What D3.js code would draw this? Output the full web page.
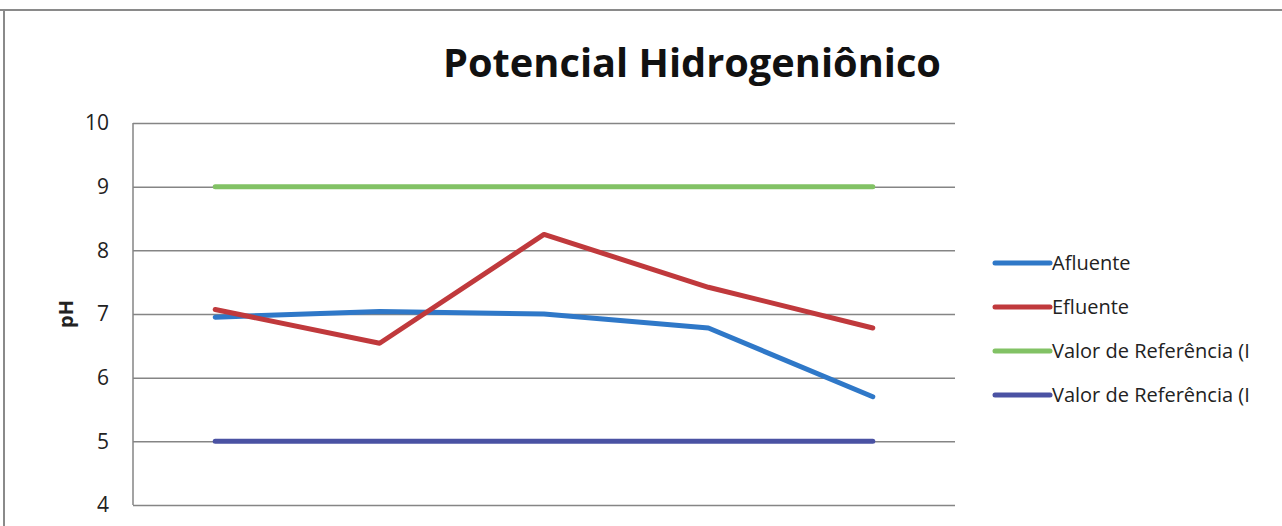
<!DOCTYPE html>
<html>
<head>
<meta charset="utf-8">
<script src="https://cdn.jsdelivr.net/npm/d3@7"></script>
<style>
  html, body { margin: 0; padding: 0; background: #fff; }
  svg { display: block; }
</style>
</head>
<body>
<svg id="chart" width="1282" height="526"></svg>
<script>
// Sampling points (categories along the x axis; no labels shown)
const categories = ["1", "2", "3", "4", "5"];
// pH readings per series
const afluente = [6.95, 7.04, 7.0, 6.78, 5.7];
const efluente = [7.07, 6.54, 8.25, 7.42, 6.78];
const refMax = [9, 9, 9, 9, 9];
const refMin = [5, 5, 5, 5, 5];
const yTicks = [4, 5, 6, 7, 8, 9, 10];

const seriesNames = ["Afluente", "Efluente", "Valor de Referência (I", "Valor de Referência (I"];
const seriesValues = [afluente, efluente, refMax, refMin];
const seriesColors = ["#2f78c8", "#c0393c", "#82c265", "#4a52a3"];

const svg = d3.select("#chart");
const plot = { left: 133, right: 955, top: 123, bottom: 505 };
const font = "Open Sans, sans-serif";

const x = d3.scalePoint().domain(categories).range([plot.left, plot.right]).padding(0.5);
const y = d3.scaleLinear().domain([4, 10]).range([plot.bottom, plot.top]);

// Frame of the document box
svg.append("line").attr("x1", 0).attr("x2", 1282).attr("y1", 10).attr("y2", 10)
  .attr("stroke", "#8a8a8a").attr("stroke-width", 2);
svg.append("line").attr("x1", 4).attr("x2", 4).attr("y1", 10).attr("y2", 526)
  .attr("stroke", "#8a8a8a").attr("stroke-width", 2);

// Title, fitted to its width
const title = svg.append("text")
  .attr("x", 692).attr("y", 77)
  .attr("text-anchor", "middle")
  .attr("font-family", font)
  .attr("font-weight", "bold")
  .attr("font-size", 38)
  .attr("fill", "#111")
  .text("Potencial Hidrogeniônico");
const tw = title.node().getComputedTextLength();
title.attr("font-size", 38 * 498 / tw);

// Horizontal gridlines and y axis
const yAxis = d3.axisLeft(y).tickValues(yTicks).tickFormat(d3.format("d"))
  .tickSize(-(plot.right - plot.left)).tickPadding(24);
const gy = svg.append("g").attr("transform", `translate(${plot.left},0)`).call(yAxis);
gy.select(".domain").remove();
gy.selectAll(".tick line").attr("stroke", "#858585").attr("stroke-width", 1.5);
gy.selectAll(".tick text")
  .attr("font-family", font)
  .attr("font-size", 21)
  .attr("fill", "#222");

// Vertical axis line
svg.append("line").attr("x1", plot.left).attr("x2", plot.left)
  .attr("y1", plot.top).attr("y2", plot.bottom)
  .attr("stroke", "#858585").attr("stroke-width", 1.5);

// Axis title
svg.append("text")
  .attr("transform", `translate(73,${y(7)}) rotate(-90)`)
  .attr("text-anchor", "middle")
  .attr("font-family", font)
  .attr("font-weight", "bold")
  .attr("font-size", 20)
  .attr("fill", "#222")
  .text("pH");

// Series lines
const line = d3.line().x((d, i) => x(categories[i])).y(d => y(d));
const drawOrder = [2, 3, 0, 1];
drawOrder.forEach(k => {
  svg.append("path")
    .datum(seriesValues[k])
    .attr("d", line)
    .attr("fill", "none")
    .attr("stroke", seriesColors[k])
    .attr("stroke-width", 5)
    .attr("stroke-linejoin", "round")
    .attr("stroke-linecap", "round");
});

// Legend
const legend = svg.append("g");
const legendY = d3.scalePoint().domain(d3.range(seriesNames.length)).range([263, 395]);
const labels = [];
seriesNames.forEach((name, k) => {
  const ly = legendY(k);
  legend.append("line")
    .attr("x1", 995).attr("x2", 1050).attr("y1", ly).attr("y2", ly)
    .attr("stroke", seriesColors[k]).attr("stroke-width", 5).attr("stroke-linecap", "round");
  labels.push(legend.append("text")
    .attr("x", 1052).attr("y", ly).attr("dy", "0.35em")
    .attr("font-family", font)
    .attr("font-size", 20)
    .attr("fill", "#222")
    .text(name));
});
// Fit the longest legend label into the space left of the edge
const lw = labels[2].node().getComputedTextLength();
const lfs = Math.min(20, 20 * 216 / lw);
labels.forEach(t => t.attr("font-size", lfs));
</script>
</body>
</html>
